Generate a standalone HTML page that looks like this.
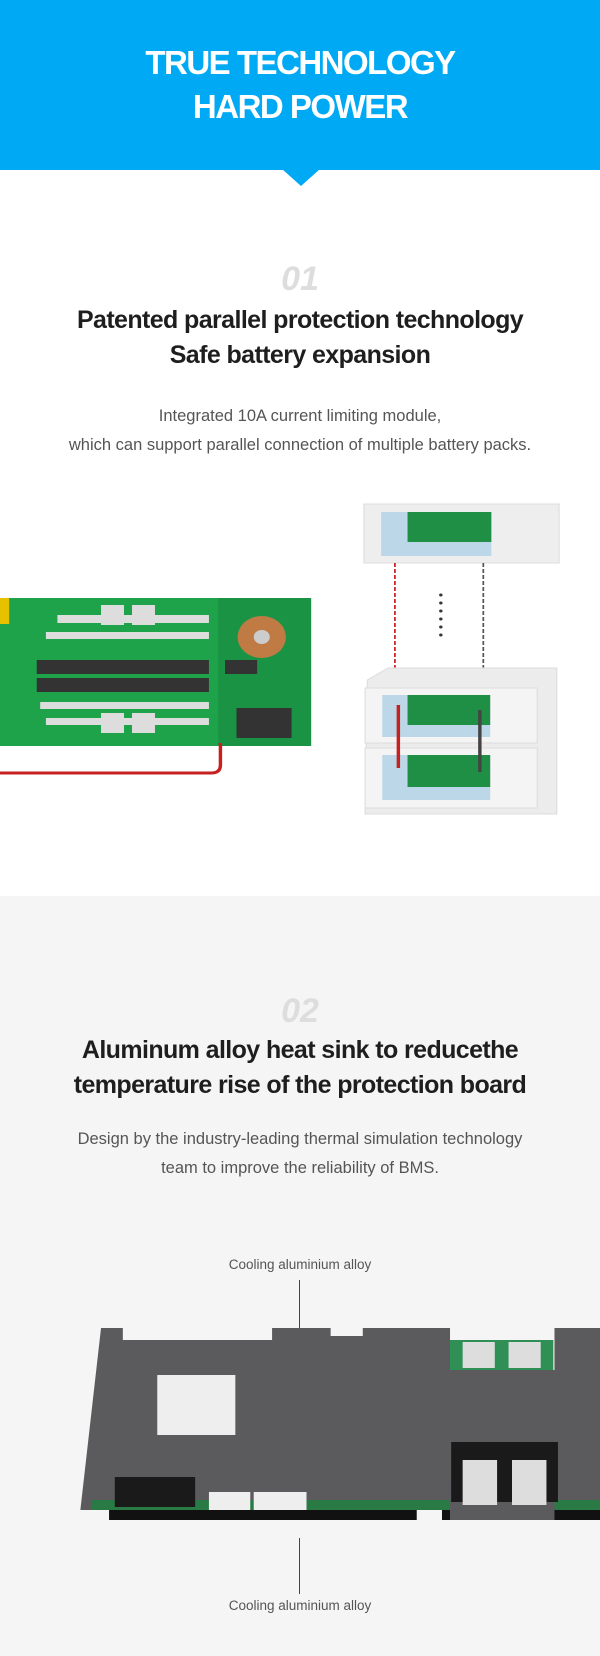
<!DOCTYPE html>
<html><head><meta charset="utf-8"><style>
*{margin:0;padding:0;box-sizing:border-box}
body{width:600px;height:1656px;position:relative;overflow:hidden;background:#fff;font-family:"Liberation Sans",sans-serif}
.a{position:absolute}
.c{position:absolute;left:0;width:600px;text-align:center;white-space:nowrap}
.t{color:#fff;font-weight:bold;font-size:33px;letter-spacing:-1.5px}
.n{color:#ddd;font-weight:bold;font-style:italic;font-size:34px}
.h{color:#1e1e1e;font-weight:bold;font-size:25px;letter-spacing:-0.6px}
.p{color:#555;font-size:16.5px}
.l{color:#555;font-size:13.5px}
</style></head><body>
<div class="a" style="left:0;top:0;width:600px;height:170px;background:#00a9f4"></div>
<div class="a" style="left:282px;top:169px;width:0;height:0;border-left:19px solid transparent;border-right:19px solid transparent;border-top:17px solid #00a9f4"></div>
<div class="c t" style="top:44px">TRUE TECHNOLOGY</div>
<div class="c t" style="top:88px">HARD POWER</div>
<div class="c n" style="top:260px">01</div>
<div class="c h" style="top:306px">Patented parallel protection technology</div>
<div class="c h" style="top:341px">Safe battery expansion</div>
<div class="c p" style="top:407px">Integrated 10A current limiting module,</div>
<div class="c p" style="top:436px">which can support parallel connection of multiple battery packs.</div>

<svg class="a" style="left:0;top:480px" width="600" height="416">
<g transform="scale(1.148,1)">
<rect x="0" y="118" width="271" height="148" fill="#1fa34a"/>
<rect x="190" y="118" width="81" height="148" fill="#1a9444"/>
<g fill="#333">
<rect x="32" y="180" width="150" height="14"/><rect x="32" y="198" width="150" height="14"/>
<rect x="196" y="180" width="28" height="14"/><rect x="206" y="228" width="48" height="30"/></g>
<g fill="#ddd"><rect x="50" y="135" width="132" height="8"/><rect x="40" y="152" width="142" height="7"/>
<rect x="35" y="222" width="147" height="7"/><rect x="40" y="238" width="142" height="7"/>
<rect x="88" y="125" width="20" height="20"/><rect x="115" y="125" width="20" height="20"/>
<rect x="88" y="233" width="20" height="20"/><rect x="115" y="233" width="20" height="20"/></g>
<circle cx="228" cy="157" r="21" fill="#c07a44"/><circle cx="228" cy="157" r="7" fill="#ccc"/>
<rect x="0" y="118" width="8" height="26" fill="#e5c100"/>
<path d="M192 263 V285 Q192 293 184 293 H0" stroke="#c62020" stroke-width="3" fill="none"/>
<rect x="317" y="24" width="170" height="59" fill="#eee" stroke="#ddd"/>
<rect x="332" y="32" width="96" height="44" fill="#bcd8e8"/><rect x="355" y="32" width="73" height="30" fill="#1f8f45"/>
<line x1="344" y1="83" x2="344" y2="198" stroke="#c62020" stroke-width="1.5" stroke-dasharray="4,2"/>
<line x1="421" y1="83" x2="421" y2="191" stroke="#555" stroke-width="1.5" stroke-dasharray="4,2"/>
<g fill="#333"><circle cx="384" cy="115" r="1.5"/><circle cx="384" cy="123" r="1.5"/><circle cx="384" cy="131" r="1.5"/><circle cx="384" cy="139" r="1.5"/><circle cx="384" cy="147" r="1.5"/><circle cx="384" cy="155" r="1.5"/></g>
<path d="M320 200 L338 188 H485 V334 H318 Z" fill="#ececec" stroke="#ddd"/>
<rect x="318" y="208" width="150" height="55" fill="#f4f4f4" stroke="#ddd"/>
<rect x="318" y="268" width="150" height="60" fill="#f4f4f4" stroke="#ddd"/>
<rect x="333" y="215" width="94" height="42" fill="#bcd8e8"/><rect x="355" y="215" width="72" height="30" fill="#1f8f45"/>
<rect x="333" y="275" width="94" height="45" fill="#bcd8e8"/><rect x="355" y="275" width="72" height="32" fill="#1f8f45"/>
<path d="M347 225 V288" stroke="#c62020" stroke-width="3"/><path d="M418 230 V292" stroke="#444" stroke-width="3"/>
</g>
</svg>

<div class="a" style="left:0;top:896px;width:600px;height:760px;background:#f5f5f5"></div>
<div class="c n" style="top:992px">02</div>
<div class="c h" style="top:1036px">Aluminum alloy heat sink to reducethe</div>
<div class="c h" style="top:1071px">temperature rise of the protection board</div>
<div class="c p" style="top:1130px">Design by the industry-leading thermal simulation technology</div>
<div class="c p" style="top:1159px">team to improve the reliability of BMS.</div>
<div class="c l" style="top:1257px">Cooling aluminium alloy</div>
<div class="a" style="left:299px;top:1280px;width:1px;height:56px;background:#444"></div>
<svg class="a" style="left:0;top:1320px" width="600" height="230">
<g transform="scale(1.148,1)">
<rect x="75" y="160" width="525" height="30" fill="#2a7a45"/>
<rect x="95" y="190" width="268" height="10" fill="#111"/><rect x="385" y="190" width="215" height="10" fill="#111"/>
<path d="M88 8 H107 V20 H237 V8 H288 V16 H316 V8 H392 V180 H80 V190 H70 Z" fill="#5b5b5e"/>
<rect x="392" y="20" width="90" height="30" fill="#2f8f55"/>
<rect x="483" y="8" width="117" height="172" fill="#5b5b5e"/>
<rect x="392" y="50" width="91" height="150" fill="#5b5b5e"/>
<rect x="393" y="122" width="93" height="60" fill="#1a1a1a"/>
<g fill="#ddd"><rect x="403" y="22" width="28" height="26"/><rect x="443" y="22" width="28" height="26"/>
<rect x="403" y="140" width="30" height="45" /><rect x="446" y="140" width="30" height="45"/></g>
<rect x="137" y="55" width="68" height="60" fill="#eee"/>
<rect x="100" y="157" width="70" height="30" fill="#1a1a1a"/>
<rect x="182" y="172" width="36" height="18" fill="#eee"/><rect x="221" y="172" width="46" height="18" fill="#eee"/>
</g>
</svg>
<div class="a" style="left:299px;top:1538px;width:1px;height:56px;background:#444"></div>
<div class="c l" style="top:1598px">Cooling aluminium alloy</div>
</body></html>
